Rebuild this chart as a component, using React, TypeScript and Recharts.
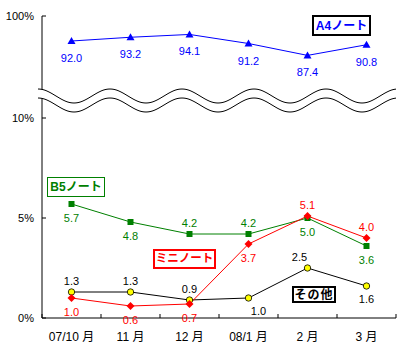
import { LineChart, Line, XAxis, YAxis } from "recharts";

const MONTHS = ["07/10 月", "11 月", "12 月", "08/1 月", "2 月", "3 月"];
const A4 = [92.0, 93.2, 94.1, 91.2, 87.4, 90.8];
const B5 = [5.7, 4.8, 4.2, 4.2, 5.0, 3.6];
const MINI = [1.0, 0.6, 0.7, 3.7, 5.1, 4.0];
const OTHER = [1.3, 1.3, 0.9, 1.0, 2.5, 1.6];
const Y_TICKS = [0, 5, 10];

// where each value label sits: 1 = under the marker, -1 = above
const A4_POS = [1, 1, 1, 1, 1, 1];
const B5_POS = [1, 1, -1, -1, 1, 1];
const MINI_POS = [1, 1, 1, 1, -1, -1];
const OTHER_POS = [-1, -1, -1, 1, -1, 1];
const OTHER_DX = [0, 0, 0, 10, -8, 0];

// broken axis: lower part 0..10% (20px per point), upper part holds the A4 line
const LOWER_MAX = 15.1;
const UPPER_MIN = 3.4;

const FONT = '"Liberation Sans", "Noto Sans CJK JP", sans-serif';

const data = MONTHS.map((month, i) => ({
  month,
  a4: A4[i],
  b5: B5[i],
  mini: MINI[i],
  other: OTHER[i],
}));

const valueLabel =
  (color: string, pos: number[], below = 14, above = 11, dx: number[] = []) =>
  (p: any) => {
    const { x, y, value, index } = p;
    const under = pos[index] > 0;
    return (
      <text
        key={`l${index}`}
        x={x + (dx[index] ?? 0)}
        y={under ? y + below + 4 : y - above + 4}
        fill={color}
        fontSize={11}
        fontFamily={FONT}
        textAnchor="middle"
      >
        {Number(value).toFixed(1)}
      </text>
    );
  };

const triangle = (p: any) => (
  <path key={`t${p.index}`} d={`M${p.cx},${p.cy - 4}L${p.cx + 4},${p.cy + 3}L${p.cx - 4},${p.cy + 3}Z`} fill="#0000ff" />
);
const square = (p: any) => (
  <rect key={`s${p.index}`} x={p.cx - 3} y={p.cy - 3} width={6} height={6} fill="#008000" />
);
const diamond = (p: any) => (
  <path key={`d${p.index}`} d={`M${p.cx},${p.cy - 4}L${p.cx + 4},${p.cy}L${p.cx},${p.cy + 4}L${p.cx - 4},${p.cy}Z`} fill="#ff0000" />
);
const circle = (p: any) => (
  <circle key={`c${p.index}`} cx={p.cx} cy={p.cy} r={3.2} fill="#ffff00" stroke="#000" strokeWidth={0.8} />
);

const XTick = (p: any) => {
  const { x, y, payload, index } = p;
  const half = payload.offset || 29.5;
  return (
    <g>
      <text x={x} y={y + 23} fontSize={12} fontFamily={FONT} textAnchor="middle" fill="#000">
        {payload.value}
      </text>
      <line x1={x - half} x2={x - half} y1={y} y2={y - 4} stroke="#000" />
      {index === MONTHS.length - 1 && <line x1={x + half} x2={x + half} y1={y} y2={y - 4} stroke="#000" />}
    </g>
  );
};

const YTick = (p: any) => {
  const { x, y, payload } = p;
  const label = payload.value === LOWER_MAX ? "100%" : `${payload.value}%`;
  return (
    <g>
      <text x={x - 8} y={y + 4} fontSize={11} fontFamily={FONT} textAnchor="end" fill="#000">
        {label}
      </text>
      <line x1={x} x2={x + 4} y1={y} y2={y} stroke="#000" />
    </g>
  );
};

function wave(y0: number) {
  const pts: string[] = [];
  for (let x = 38; x <= 396; x += 2) {
    pts.push(`${x},${(y0 - 7 * Math.cos(((x - 38) * 2 * Math.PI) / 72)).toFixed(1)}`);
  }
  return pts;
}

function Break() {
  const top = wave(96);
  const bot = wave(105);
  return (
    <svg width={400} height={351} style={{ position: "absolute", left: 0, top: 0, pointerEvents: "none" }}>
      <polygon points={[...top, ...bot.slice().reverse()].join(" ")} fill="#fff" />
      <polyline points={top.join(" ")} fill="none" stroke="#000" strokeWidth={1} />
      <polyline points={bot.join(" ")} fill="none" stroke="#000" strokeWidth={1} />
    </svg>
  );
}

const box = (color: string, bw: number, size = 12): React.CSSProperties => ({
  position: "absolute",
  border: `${bw}px solid ${color}`,
  color,
  background: "#fff",
  fontWeight: "bold",
  fontSize: size,
  fontFamily: FONT,
  lineHeight: 1,
  whiteSpace: "nowrap",
  display: "flex",
  alignItems: "center",
  justifyContent: "center",
  boxSizing: "border-box",
});

export default function App() {
  return (
    <div style={{ position: "absolute", left: 0, top: 0, width: 400, height: 351, background: "#fff" }}>
      <LineChart width={400} height={351} data={data} margin={{ top: 16, right: 4, left: 0, bottom: 0 }}>
        <XAxis
          dataKey="month"
          scale="band"
          interval={0}
          height={33}
          tickSize={0}
          tickMargin={0}
          tickLine={false}
          axisLine={{ stroke: "#000" }}
          tick={<XTick />}
        />
        <YAxis
          yAxisId="low"
          domain={[0, LOWER_MAX]}
          ticks={[...Y_TICKS, LOWER_MAX]}
          width={42}
          tickSize={0}
          tickMargin={0}
          tickLine={false}
          axisLine={{ stroke: "#000" }}
          tick={<YTick />}
        />
        <YAxis yAxisId="up" hide domain={[UPPER_MIN, 100]} />
        <Line yAxisId="up" dataKey="a4" stroke="#0000ff" strokeWidth={1} dot={triangle} label={valueLabel("#0000ff", A4_POS, 17)} isAnimationActive={false} />
        <Line yAxisId="low" dataKey="b5" stroke="#008000" strokeWidth={1} dot={square} label={valueLabel("#008000", B5_POS)} isAnimationActive={false} />
        <Line yAxisId="low" dataKey="other" stroke="#000" strokeWidth={1} dot={circle} label={valueLabel("#000", OTHER_POS, 13, 11, OTHER_DX)} isAnimationActive={false} />
        <Line yAxisId="low" dataKey="mini" stroke="#ff0000" strokeWidth={1} dot={diamond} label={valueLabel("#ff0000", MINI_POS)} isAnimationActive={false} />
      </LineChart>
      <Break />
      <div style={{ ...box("#000", 2), left: 312, top: 15, width: 59, height: 21, color: "#0000ff" }}>A4ノート</div>
      <div style={{ ...box("#008000", 1), left: 47, top: 177, width: 58, height: 20 }}>B5ノート</div>
      <div style={{ ...box("#ff0000", 2, 11.5), left: 153, top: 249, width: 63, height: 20 }}>ミニノート</div>
      <div style={{ ...box("#000", 2, 12), left: 292, top: 286, width: 44, height: 17, letterSpacing: 1 }}>その他</div>
    </div>
  );
}
